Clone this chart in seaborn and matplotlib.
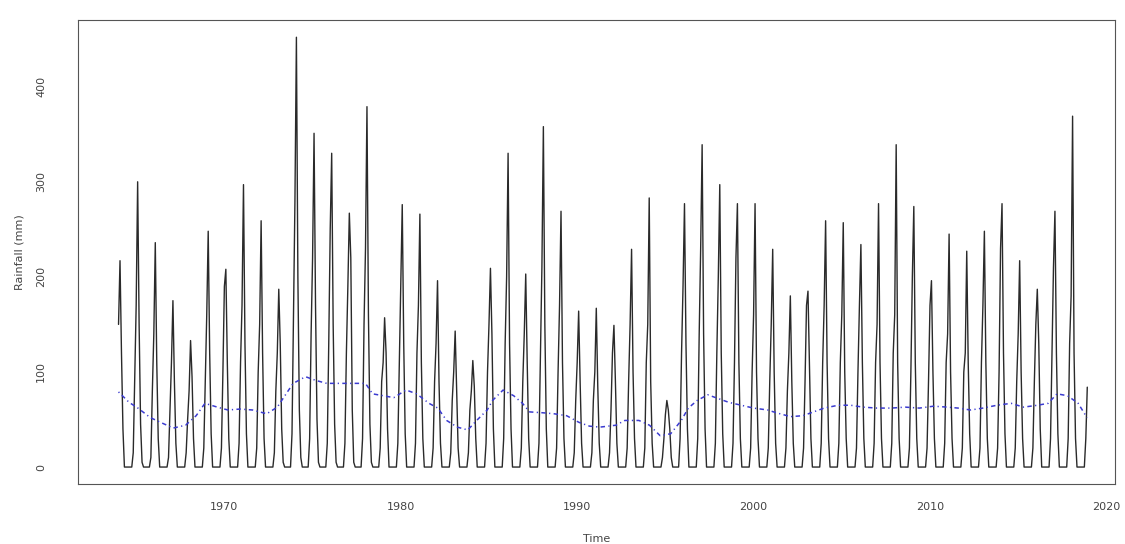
import pandas as pd
import numpy as np
import matplotlib
matplotlib.use("Agg")
import matplotlib.pyplot as plt
import seaborn as sns

# Monthly rainfall (mm), Jan..Dec
start_year = 1964
rain_rows = [
    [150, 217, 120, 40, 0, 0, 0, 0, 0, 0, 15, 90],    # 1964
    [170, 300, 150, 45, 5, 0, 0, 0, 0, 0, 10, 80],    # 1965
    [140, 236, 110, 30, 0, 0, 0, 0, 0, 0, 10, 60],    # 1966
    [110, 175, 90, 25, 0, 0, 0, 0, 0, 0, 15, 50],     # 1967
    [80, 133, 95, 30, 0, 0, 0, 0, 0, 0, 20, 90],      # 1968
    [160, 248, 120, 35, 0, 0, 0, 0, 0, 0, 20, 100],   # 1969
    [190, 208, 110, 30, 0, 0, 0, 0, 0, 0, 25, 110],   # 1970
    [170, 297, 130, 35, 0, 0, 0, 0, 0, 0, 20, 100],   # 1971
    [150, 259, 120, 30, 0, 0, 0, 0, 0, 0, 15, 80],    # 1972
    [120, 187, 130, 40, 5, 0, 0, 0, 0, 0, 35, 160],   # 1973
    [280, 452, 200, 60, 10, 0, 0, 0, 0, 0, 30, 140],  # 1974
    [220, 351, 170, 50, 5, 0, 0, 0, 0, 0, 25, 130],   # 1975
    [250, 330, 150, 45, 5, 0, 0, 0, 0, 0, 25, 120],   # 1976
    [190, 267, 220, 60, 5, 0, 0, 0, 0, 0, 30, 150],   # 1977
    [230, 379, 160, 45, 5, 0, 0, 0, 0, 0, 20, 90],    # 1978
    [110, 157, 120, 40, 0, 0, 0, 0, 0, 0, 25, 110],   # 1979
    [200, 276, 130, 35, 0, 0, 0, 0, 0, 0, 25, 120],   # 1980
    [170, 266, 110, 30, 0, 0, 0, 0, 0, 0, 20, 90],    # 1981
    [130, 196, 90, 25, 0, 0, 0, 0, 0, 0, 15, 70],     # 1982
    [100, 143, 80, 20, 0, 0, 0, 0, 0, 0, 15, 60],     # 1983
    [80, 112, 85, 30, 0, 0, 0, 0, 0, 0, 25, 100],     # 1984
    [150, 209, 140, 40, 0, 0, 0, 0, 0, 0, 30, 130],   # 1985
    [200, 330, 130, 40, 0, 0, 0, 0, 0, 0, 20, 90],    # 1986
    [140, 203, 110, 30, 0, 0, 0, 0, 0, 0, 25, 120],   # 1987
    [210, 358, 150, 40, 0, 0, 0, 0, 0, 0, 20, 100],   # 1988
    [170, 269, 110, 30, 0, 0, 0, 0, 0, 0, 15, 70],    # 1989
    [110, 164, 90, 25, 0, 0, 0, 0, 0, 0, 15, 70],     # 1990
    [100, 167, 85, 25, 0, 0, 0, 0, 0, 0, 15, 60],     # 1991
    [120, 149, 90, 25, 0, 0, 0, 0, 0, 0, 20, 90],     # 1992
    [150, 229, 100, 30, 0, 0, 0, 0, 0, 0, 20, 110],   # 1993
    [150, 283, 90, 25, 0, 0, 0, 0, 0, 0, 10, 30],     # 1994
    [55, 70, 60, 40, 10, 0, 0, 0, 0, 0, 30, 120],     # 1995
    [190, 277, 130, 40, 0, 0, 0, 0, 0, 0, 30, 140],   # 1996
    [230, 339, 140, 40, 0, 0, 0, 0, 0, 0, 25, 120],   # 1997
    [200, 297, 120, 35, 0, 0, 0, 0, 0, 0, 25, 110],   # 1998
    [220, 277, 110, 30, 0, 0, 0, 0, 0, 0, 20, 100],   # 1999
    [160, 277, 100, 30, 0, 0, 0, 0, 0, 0, 20, 90],    # 2000
    [150, 229, 100, 25, 0, 0, 0, 0, 0, 0, 20, 80],    # 2001
    [120, 180, 90, 25, 0, 0, 0, 0, 0, 0, 20, 90],     # 2002
    [170, 185, 110, 30, 0, 0, 0, 0, 0, 0, 25, 110],   # 2003
    [170, 259, 110, 30, 0, 0, 0, 0, 0, 0, 25, 110],   # 2004
    [160, 257, 100, 30, 0, 0, 0, 0, 0, 0, 20, 100],   # 2005
    [170, 234, 110, 30, 0, 0, 0, 0, 0, 0, 25, 110],   # 2006
    [150, 277, 110, 30, 0, 0, 0, 0, 0, 0, 25, 120],   # 2007
    [160, 339, 110, 30, 0, 0, 0, 0, 0, 0, 20, 100],   # 2008
    [200, 274, 110, 30, 0, 0, 0, 0, 0, 0, 20, 90],    # 2009
    [170, 196, 100, 30, 0, 0, 0, 0, 0, 0, 25, 110],   # 2010
    [140, 245, 100, 30, 0, 0, 0, 0, 0, 0, 20, 100],   # 2011
    [120, 227, 110, 35, 0, 0, 0, 0, 0, 0, 20, 110],   # 2012
    [170, 248, 110, 30, 0, 0, 0, 0, 0, 0, 20, 100],   # 2013
    [230, 277, 120, 35, 0, 0, 0, 0, 0, 0, 20, 90],    # 2014
    [140, 217, 100, 30, 0, 0, 0, 0, 0, 0, 20, 90],    # 2015
    [150, 187, 130, 40, 0, 0, 0, 0, 0, 0, 30, 120],   # 2016
    [210, 269, 120, 35, 0, 0, 0, 0, 0, 0, 30, 130],   # 2017
    [180, 369, 120, 30, 0, 0, 0, 0, 0, 0, 30, 84],    # 2018
]

# Smoothed trend (blue dot-dash line), time in decimal years
trend_time = [1964.0, 1964.6, 1965.1, 1965.8, 1966.5, 1967.1, 1967.8, 1968.4,
              1968.9, 1969.6, 1970.2, 1970.9, 1971.6, 1972.4, 1973.0, 1973.5,
              1973.9, 1974.6, 1975.2, 1975.8, 1976.5, 1977.2, 1978.0, 1978.4,
              1979.0, 1979.6, 1980.3, 1980.9, 1981.6, 1982.1, 1982.6, 1983.2,
              1983.8, 1984.3, 1984.9, 1985.2, 1985.8, 1986.4, 1986.9, 1987.3,
              1988.1, 1988.7, 1989.4, 1990.1, 1990.7, 1991.3, 1992.2, 1992.7,
              1993.5, 1994.1, 1994.7, 1995.3, 1995.9, 1996.3, 1996.8, 1997.4,
              1998.0, 1998.6, 1999.3, 2000.0, 2000.8, 2001.3, 2002.1, 2002.8,
              2003.4, 2004.0, 2004.8, 2005.5, 2006.2, 2007.0, 2007.8, 2008.6,
              2009.4, 2010.2, 2011.0, 2011.6, 2012.3, 2013.0, 2013.8, 2014.6,
              2015.3, 2016.1, 2016.7, 2017.2, 2017.8, 2018.4, 2018.9]
trend_vals = [79, 68, 62, 52, 46, 41, 44, 54,
              67, 63, 60, 61, 60, 56, 63, 77,
              88, 95, 91, 88, 88, 88, 88, 77,
              75, 73, 81, 77, 67, 62, 49, 42,
              39, 49, 60, 70, 81, 75, 67, 58,
              57, 56, 54, 47, 43, 42, 44, 49,
              49, 44, 33, 35, 49, 62, 70, 76,
              72, 68, 65, 62, 60, 57, 53, 54,
              58, 62, 65, 65, 63, 62, 62, 63,
              62, 64, 63, 62, 60, 62, 65, 67,
              63, 65, 67, 77, 75, 67, 52]

rain = np.array(rain_rows).ravel()
df = pd.DataFrame({"Time": start_year + np.arange(len(rain)) / 12.0,
                   "Rainfall": rain})
trend = pd.DataFrame({"Time": trend_time, "Trend": trend_vals})

sns.set_theme(style="white")
plt.rcParams["font.family"] = ["DejaVu Sans"]

fig = plt.figure(figsize=(11.25, 5.44), dpi=100)
ax = fig.add_axes([0.0693, 0.110, 0.922, 0.853])

sns.lineplot(data=df, x="Time", y="Rainfall", ax=ax, color="#2a2a2a",
             linewidth=1.0, estimator=None, sort=False)
sns.lineplot(data=trend, x="Time", y="Trend", ax=ax, color="#3b3bd0",
             linewidth=1.1, estimator=None, sort=False)
ax.lines[-1].set_dashes([0.8, 2.2, 2.9, 2.2])

ax.set_xlim(1961.7, 2020.5)
ax.set_ylim(-18, 470)
ax.set_xticks([1970, 1980, 1990, 2000, 2010, 2020])
ax.set_yticks([0, 100, 200, 300, 400])
ax.tick_params(axis="both", direction="out", length=5, width=0.8,
               color="#555555", labelsize=8, labelcolor="#444444")
ax.tick_params(axis="y", pad=18)
ax.tick_params(axis="x", pad=8)
for lab in ax.get_yticklabels():
    lab.set_rotation(90)
    lab.set_va("center")
for s in ax.spines.values():
    s.set_visible(True)
    s.set_color("#555555")
    s.set_linewidth(0.8)

ax.set_xlabel("Time", fontsize=8, color="#444444", labelpad=16)
ax.set_ylabel("Rainfall (mm)", fontsize=8, color="#444444", labelpad=8)

fig.savefig("out.png", dpi=100)
